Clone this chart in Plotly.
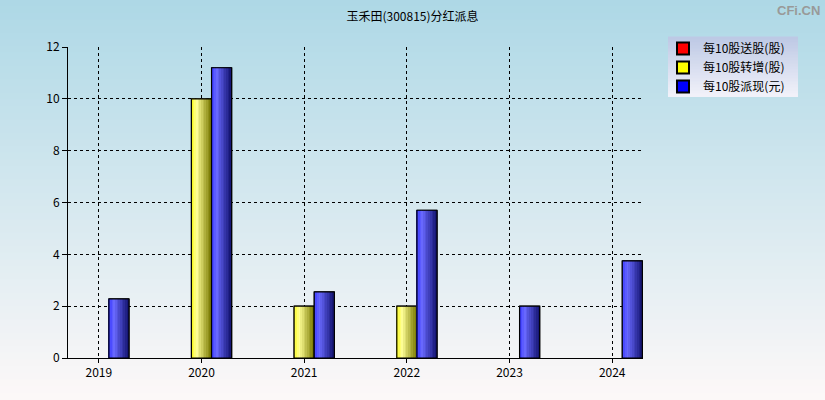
import plotly.graph_objects as go

# ---- data ----
years = ["2019", "2020", "2021", "2022", "2023", "2024"]
song = [0, 0, 0, 0, 0, 0]            # 每10股送股(股)
zhuan = [0, 10, 2, 2, 0, 0]          # 每10股转增(股)
pai = [2.28, 11.2, 2.55, 5.7, 2.0, 3.75]  # 每10股派现(元)
names = ["每10股送股(股)", "每10股转增(股)", "每10股派现(元)"]
title = "玉禾田(300815)分红派息"

W, H = 825, 400
L, R, T, B = 68, 182, 47, 42
PW, PH = W - L - R, H - T - B

bw = 0.196
N = 12

def lerp(c1, c2, t):
    return tuple(round(a + (b - a) * t) for a, b in zip(c1, c2))

def grad(stops, t):
    for (p0, c0), (p1, c1) in zip(stops, stops[1:]):
        if p0 <= t <= p1:
            return lerp(c0, c1, (t - p0) / (p1 - p0))
    return stops[-1][1]

series = [
    (song, "#ff0000", [(0, (255, 40, 40)), (0.28, (255, 120, 120)), (1, (120, 10, 10))]),
    (zhuan, "#ffff00", [(0, (250, 250, 20)), (0.28, (255, 255, 150)), (1, (120, 120, 0))]),
    (pai, "#0000ff", [(0, (50, 50, 255)), (0.28, (105, 105, 255)), (1, (18, 18, 110))]),
]

fig = go.Figure()

for i, (vals, base, stops) in enumerate(series):
    v = [x if x else None for x in vals]
    start = (i - 1.5) * bw
    fig.add_trace(go.Bar(x=years, y=v, name=names[i], width=bw, offset=start,
                         marker=dict(color=base, line=dict(color="black", width=1)),
                         showlegend=True, hoverinfo="skip"))
    for k in range(N):
        t = (k + 0.5) / N
        c = grad(stops, t)
        fig.add_trace(go.Bar(x=years, y=v, width=bw / N * 1.05, offset=start + k * bw / N,
                             marker=dict(color="rgb(%d,%d,%d)" % c, line=dict(width=0)),
                             showlegend=False, hoverinfo="skip"))
    fig.add_trace(go.Bar(x=years, y=v, width=bw, offset=start,
                         marker=dict(color="rgba(0,0,0,0)", line=dict(color="black", width=1.2)),
                         showlegend=False, hoverinfo="skip"))

shapes = []
top_c, bot_c = (173, 216, 230), (253, 248, 248)
NS = 60
y0p, y1p = -B / PH, 1 + T / PH
for s in range(NS):
    a = y1p - (y1p - y0p) * s / NS
    b = y1p - (y1p - y0p) * (s + 1) / NS
    c = lerp(top_c, bot_c, (s + 0.5) / NS)
    shapes.append(dict(type="rect", xref="paper", yref="paper", x0=-L / PW, x1=1 + R / PW,
                       y0=b, y1=a + 0.002, fillcolor="rgb(%d,%d,%d)" % c,
                       line=dict(width=0), layer="below"))
lx0, lx1 = (668 - L) / PW, (798 - L) / PW
ly1, ly0 = (H - B - 37) / PH, (H - B - 97) / PH
lt, lb = (188, 200, 228), (242, 242, 250)
NL = 20
for s in range(NL):
    a = ly1 - (ly1 - ly0) * s / NL
    b = ly1 - (ly1 - ly0) * (s + 1) / NL
    c = lerp(lt, lb, (s + 0.5) / NL)
    shapes.append(dict(type="rect", xref="paper", yref="paper", x0=lx0, x1=lx1,
                       y0=b, y1=a + 0.002, fillcolor="rgb(%d,%d,%d)" % c,
                       line=dict(width=0), layer="below"))

fig.update_layout(
    width=W, height=H,
    margin=dict(l=L, r=R, t=T, b=B),
    paper_bgcolor="rgb(%d,%d,%d)" % bot_c,
    plot_bgcolor="rgba(0,0,0,0)",
    barmode="overlay",
    shapes=shapes,
    font=dict(family="Noto Sans CJK SC, Noto Sans, sans-serif", size=12, color="#000"),
    title=dict(text=title, x=0.5, xanchor="center", y=1 - 17 / H, yanchor="middle",
               font=dict(size=12, color="#000")),
    legend=dict(x=lx0 - 5 / PW, y=ly1 + 3 / PH, xanchor="left", yanchor="top",
                bgcolor="rgba(0,0,0,0)", borderwidth=0, tracegroupgap=0,
                font=dict(size=12, color="#000"), itemsizing="constant", itemwidth=30),
    xaxis=dict(type="category", range=[-0.3, 5.3], showline=True, linecolor="black",
               linewidth=1, showgrid=True, gridcolor="black", griddash="3px,3px", gridwidth=1,
               ticks="outside", ticklen=4, tickcolor="black", zeroline=False,
               tickfont=dict(size=12)),
    yaxis=dict(range=[0, 12], dtick=2, showline=True, linecolor="black", linewidth=1,
               showgrid=True, gridcolor="black", griddash="3px,3px", gridwidth=1,
               ticks="outside", ticklen=5, tickcolor="black", zeroline=False,
               tickfont=dict(size=12)),
    annotations=[dict(text="<b>CFi.CN</b>", xref="paper", yref="paper",
                      x=(W - 3 - L) / PW, y=(H - B - 10) / PH, xanchor="right", yanchor="middle",
                      showarrow=False, font=dict(size=13, color="#999999",
                                                 family="Liberation Sans, Arial"))],
)

fig.write_html("out.html", config={"displayModeBar": False},
               post_script="document.body.style.margin='0';document.body.style.padding='0';")
